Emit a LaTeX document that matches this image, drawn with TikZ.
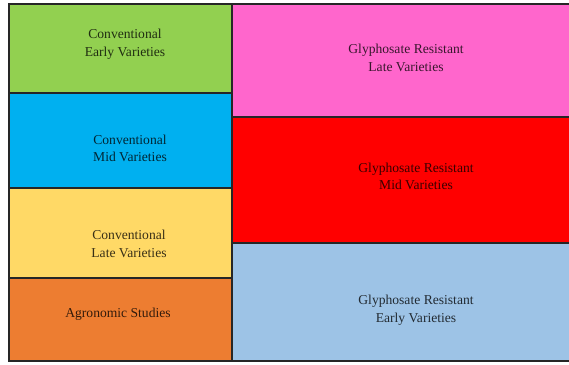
\documentclass[tikz,border=0pt]{standalone}
\usepackage{fontspec}
\setmainfont{Liberation Serif}
\definecolor{cgreen}{HTML}{92D050}
\definecolor{cblue}{HTML}{00B0F0}
\definecolor{cyellow}{HTML}{FFD966}
\definecolor{corange}{HTML}{ED7D31}
\definecolor{cpink}{HTML}{FF66CC}
\definecolor{cred}{HTML}{FF0000}
\definecolor{clblue}{HTML}{9DC3E6}
\begin{document}
\begin{tikzpicture}[x=1pt,y=-1pt,
  lbl/.style={align=center, font=\fontsize{13.6}{17.5}\selectfont, text=black, text opacity=0.78, inner sep=0pt},
  edge/.style={line width=1.8pt, draw=black!85}]
\useasboundingbox (0,0) rectangle (569,364);
\fill[white] (0,0) rectangle (569,364);
% fills
\fill[cgreen]  (9,4) rectangle (232,93);
\fill[cblue]   (9,93) rectangle (232,188);
\fill[cyellow] (9,188) rectangle (232,278);
\fill[corange] (9,278) rectangle (232,361);
\fill[cpink]   (232,4) rectangle (569,117);
\fill[cred]    (232,117) rectangle (569,243);
\fill[clblue]  (232,243) rectangle (569,361);
% borders
\draw[edge] (569,4) -- (9,4) -- (9,361) -- (569,361);
\draw[edge] (232,4) -- (232,361);
\draw[edge, line width=2.6pt] (9,93) -- (232,93);
\draw[edge] (9,188) -- (232,188);
\draw[edge] (9,278) -- (232,278);
\draw[edge] (232,117) -- (569,117);
\draw[edge] (232,243) -- (569,243);
% labels
\node[lbl] (ce) at (125,44) {Conventional\\Early Varieties};
\node[lbl] (cm) at (130,148.5) {Conventional\\Mid Varieties};
\node[lbl] (cl) at (129,244) {Conventional\\Late Varieties};
\node[lbl] (ag) at (118,314) {Agronomic Studies};
\node[lbl] (gl) at (406,58) {Glyphosate Resistant\\Late Varieties};
\node[lbl] (gm) at (416,176.5) {Glyphosate Resistant\\Mid Varieties};
\node[lbl] (ge) at (416,310) {Glyphosate Resistant\\Early Varieties};
\end{tikzpicture}
\end{document}
